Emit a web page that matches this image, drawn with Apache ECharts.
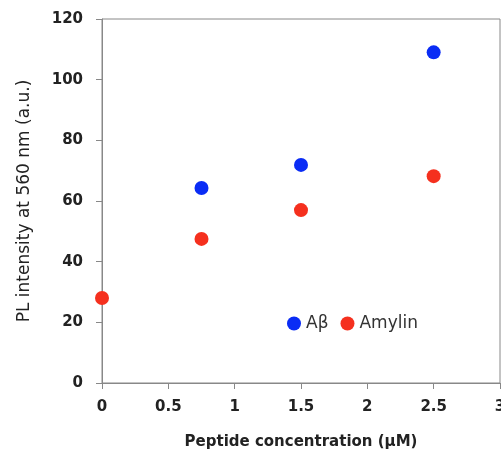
<!DOCTYPE html>
<html>
<head>
<meta charset="utf-8">
<script src="https://cdn.jsdelivr.net/npm/echarts@6/dist/echarts.min.js"></script>
<style>
  html, body { margin: 0; padding: 0; background: #fff; }
  #chart { width: 501px; height: 461px; }
</style>
</head>
<body>
<div id="chart"></div>
<script>
// data
const abetaConc = [0.75, 1.5, 2.5]
const abetaPL = [64.3, 71.9, 109]
const amylinConc = [0, 0.75, 1.5, 2.5]
const amylinPL = [28, 47.5, 57, 68.2]

const chart = echarts.init(document.getElementById('chart'))

const toPairs = (xs, ys) => xs.map((x, i) => [x, ys[i]])
const font = 'DejaVu Sans'

const option = {
  animation: false,
  backgroundColor: '#fff',
  grid: {
    left: 102, right: 1, top: 19, bottom: 78,
    containLabel: false,
    outerBoundsMode: 'none',
    show: true, borderColor: '#888', borderWidth: 1
  },
  legend: {
    left: 282,
    top: 310,
    icon: 'circle',
    itemWidth: 14,
    itemHeight: 14,
    itemGap: 12,
    textStyle: { fontFamily: font, fontSize: 17, color: '#333' },
    data: ['Aβ', 'Amylin']
  },
  xAxis: {
    type: 'value',
    min: 0,
    max: 3,
    interval: 0.5,
    name: 'Peptide concentration (μM)',
    nameLocation: 'middle',
    nameGap: 52,
    nameTextStyle: { fontFamily: font, fontSize: 15, fontWeight: 'bold', color: '#222' },
    axisLine: { lineStyle: { color: '#888' } },
    axisTick: { show: true, length: 6, lineStyle: { color: '#888' } },
    axisLabel: { fontFamily: font, fontSize: 15, fontWeight: 'bold', color: '#222', margin: 17 },
    splitLine: { show: false }
  },
  yAxis: {
    type: 'value',
    min: 0,
    max: 120,
    interval: 20,
    name: 'PL intensity at 560 nm (a.u.)',
    nameLocation: 'middle',
    nameGap: 69,
    nameTextStyle: { fontFamily: font, fontSize: 17, color: '#222' },
    axisLine: { show: true, lineStyle: { color: '#888' } },
    axisTick: { show: true, length: 6, lineStyle: { color: '#888' } },
    axisLabel: { fontFamily: font, fontSize: 15, fontWeight: 'bold', color: '#222', margin: 19 },
    splitLine: { show: false }
  },
  series: [
    {
      name: 'Aβ',
      type: 'scatter',
      symbolSize: 14,
      itemStyle: { color: '#0a2cf5', opacity: 1 },
      data: toPairs(abetaConc, abetaPL)
    },
    {
      name: 'Amylin',
      type: 'scatter',
      symbolSize: 14,
      itemStyle: { color: '#f5301e', opacity: 1 },
      data: toPairs(amylinConc, amylinPL)
    }
  ]
}

chart.setOption(option)
</script>
</body>
</html>
